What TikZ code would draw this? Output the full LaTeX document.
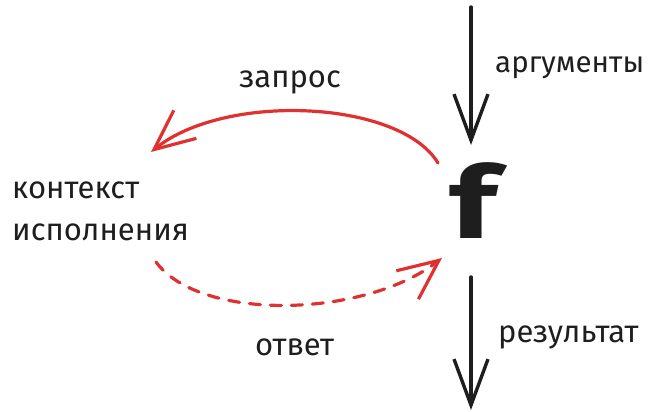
\documentclass[tikz,border=0pt]{standalone}
\usepackage{fontspec}
\setmainfont{Fira Sans}
\usetikzlibrary{arrows.meta}
\definecolor{ink}{HTML}{1E1E1E}
\definecolor{xred}{HTML}{E03131}
\tikzset{
  lbl/.style={anchor=base west, inner sep=0pt, text=ink, font=\fontsize{31}{36}\selectfont},
  flow/.style={draw=ink, line width=3.4pt, line cap=round,
    -{Straight Barb[length=46pt, width=34pt, line width=3.4pt]}},
  call/.style={draw=xred, line width=3.2pt, line cap=round,
    -{Straight Barb[length=40pt, width=36pt, line width=3.2pt]}},
  reply/.style={call, dash pattern=on 11pt off 10pt}
}
\begin{document}
\begin{tikzpicture}[x=1pt,y=-1pt]
\useasboundingbox (0,0) rectangle (651,412);
% nodes
\node[inner sep=0pt, anchor=base, text=ink, xscale=1.35,
  font=\fontsize{100}{100}\bfseries\selectfont] (f) at (474,238) {f};
\node[lbl] (ctx1) at (12,198) {контекст};
\node[lbl] (ctx2) at (12,240) {исполнения};
\node[lbl, font=\fontsize{29.5}{34}\selectfont] (args) at (495,73) {аргументы};
\node[lbl] (res) at (498,342) {результат};
\node[lbl] (req) at (239,88) {запрос};
\node[lbl] (ans) at (255,355) {ответ};
% free ends
\coordinate (in) at (471,7);
\coordinate (fin) at (471,145);
\coordinate (fout) at (471,277);
\coordinate (out) at (471,410);
\coordinate (freq) at (438,163);
\coordinate (creq) at (151,152);
\coordinate (cans) at (156,262);
\coordinate (fans) at (442,258);
% connectors
\draw[flow] (in) -- (fin);
\draw[flow] (fout) -- (out);
\draw[call] (freq) .. controls (400,100) and (225,92) .. (creq);
\draw[reply] (cans) .. controls (200,322) and (365,318) .. (fans);
\end{tikzpicture}
\end{document}
